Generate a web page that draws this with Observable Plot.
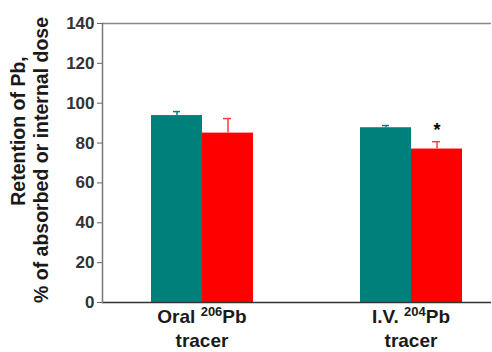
<!DOCTYPE html>
<html>
<head>
<meta charset="utf-8">
<script src="https://cdn.jsdelivr.net/npm/d3@7"></script>
<script src="https://cdn.jsdelivr.net/npm/@observablehq/plot@0.6"></script>
<style>
  html, body { margin: 0; padding: 0; background: #fff; }
  svg { font-family: Arial, "Liberation Sans", sans-serif; }
</style>
</head>
<body>
<div id="chart"></div>
<script>
// Data
const groups = ["Oral", "IV"];
const groupPrefix = ["Oral ", "I.V. "];
const groupIsotope = ["206", "204"];
const groupElement = ["Pb", "Pb"];
const groupLine2 = ["tracer", "tracer"];
const seriesColors = ["#00807a", "#ff0000"];
const valuesA = [93.8, 87.7];
const errorsA = [2.0, 1.1];
const valuesB = [85.0, 77.0];
const errorsB = [7.3, 3.7];
const yTicks = [0, 20, 40, 60, 80, 100, 120, 140];
const starGroup = "IV";
const starValue = 88.5;
const yLabel1 = "Retention of Pb,";
const yLabel2 = "% of absorbed or internal dose";

const rows = [];
groups.forEach((g, i) => {
  rows.push({group: g, series: "A", value: valuesA[i], err: errorsA[i]});
  rows.push({group: g, series: "B", value: valuesB[i], err: errorsB[i]});
});
const rowsA = rows.filter(d => d.series === "A");
const rowsB = rows.filter(d => d.series === "B");

const half = 25.5;

const chart = Plot.plot({
  width: 492,
  height: 352,
  marginLeft: 102,
  marginRight: 1,
  marginTop: 23,
  marginBottom: 50,
  style: {fontFamily: "Arial, 'Liberation Sans', sans-serif", background: "#fff"},
  x: {domain: groups, range: [150, 462], paddingInner: 0.514, paddingOuter: 0, axis: null},
  y: {domain: [0, 140], ticks: yTicks, axis: null},
  marks: [
    Plot.ruleY([140], {stroke: "#8a8a8a", strokeWidth: 1.5}),
    Plot.barY(rowsA, {x: "group", y: "value", fill: seriesColors[0], insetRight: 51, insetLeft: 0}),
    Plot.barY(rowsB, {x: "group", y: "value", fill: seriesColors[1], insetLeft: 51, insetRight: 0}),
    Plot.ruleX(rowsA, {x: "group", y1: "value", y2: d => d.value + d.err, stroke: seriesColors[0], strokeWidth: 1.5, dx: -half}),
    Plot.tickY(rowsA, {x: "group", y: d => d.value + d.err, stroke: seriesColors[0], strokeWidth: 1.5, insetLeft: 22, insetRight: 73}),
    Plot.ruleX(rowsB, {x: "group", y1: "value", y2: d => d.value + d.err, stroke: "#ff3b3b", strokeWidth: 1.5, dx: half}),
    Plot.tickY(rowsB, {x: "group", y: d => d.value + d.err, stroke: "#ff3b3b", strokeWidth: 1.5, insetLeft: 72, insetRight: 22}),
    Plot.text([{group: starGroup, v: starValue}], {x: "group", y: "v", text: () => "*", dx: half, dy: 4, fontSize: 18, fontWeight: "bold", fill: "#000"}),
    Plot.axisY({ticks: yTicks, tickSize: 5, tickPadding: 3, fontSize: 17, fontWeight: "bold", color: "#333", stroke: "#666", label: null}),
    Plot.ruleY([0], {stroke: "#333", strokeWidth: 1.5}),
    Plot.frame({anchor: "left", stroke: "#777", strokeWidth: 1.5})
  ]
});

document.getElementById("chart").appendChild(chart);

const svg = d3.select(chart);
svg.selectAll("g[aria-label='y-axis tick label']").attr("font-size", 17).attr("font-weight", "bold");

const xScale = chart.scale("x");
groups.forEach((g, i) => {
  const cx = xScale.apply(g) + xScale.bandwidth / 2;
  const t1 = svg.append("text")
    .attr("x", cx).attr("y", 323)
    .attr("text-anchor", "middle")
    .attr("font-size", 19).attr("font-weight", "bold").attr("fill", "#1a1a1a");
  t1.append("tspan").text(groupPrefix[i]);
  t1.append("tspan").attr("font-size", 13).attr("dy", -7).text(groupIsotope[i]);
  t1.append("tspan").attr("dy", 7).text(groupElement[i]);
  svg.append("text")
    .attr("x", cx).attr("y", 347)
    .attr("text-anchor", "middle")
    .attr("font-size", 19).attr("font-weight", "bold").attr("fill", "#1a1a1a")
    .text(groupLine2[i]);
});

const yl = svg.append("g").attr("font-size", 19.5).attr("font-weight", "bold").attr("fill", "#1a1a1a");
yl.append("text").attr("transform", "translate(25,131) rotate(-90)").attr("text-anchor", "middle").text(yLabel1);
yl.append("text").attr("transform", "translate(48,160) rotate(-90)").attr("text-anchor", "middle").text(yLabel2);
</script>
</body>
</html>
